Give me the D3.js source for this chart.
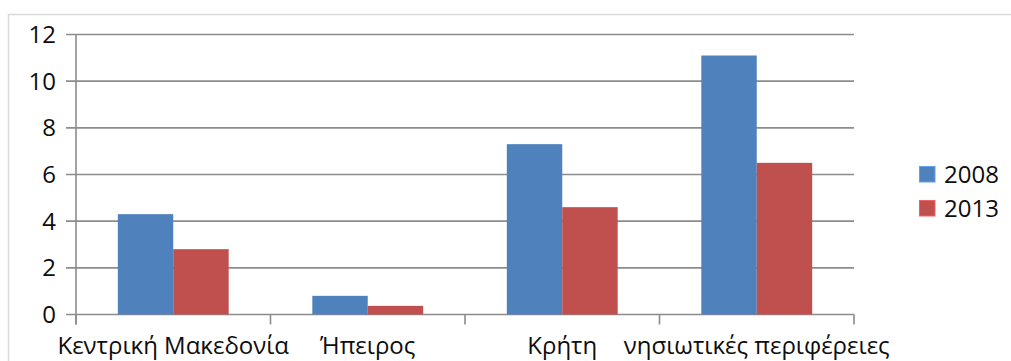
<!DOCTYPE html>
<html>
<head>
<meta charset="utf-8">
<script src="https://cdn.jsdelivr.net/npm/d3@7/dist/d3.min.js"></script>
<style>
  html, body { margin: 0; padding: 0; background: #fff; }
  svg { display: block; font-family: "Open Sans", "Noto Sans", sans-serif; }
</style>
</head>
<body>
<script>
// Regions and the two survey years
const categories = ["Κεντρική Μακεδονία", "Ήπειρος", "Κρήτη", "νησιωτικές περιφέρειες"];
const seriesNames = ["2008", "2013"];
const values2008 = [4.3, 0.8, 7.3, 11.1];
const values2013 = [2.8, 0.37, 4.6, 6.5];
const yTicks = [0, 2, 4, 6, 8, 10, 12];
const colors = ["#4F81BD", "#C0504D"];

const W = 1011, H = 361;
const plot = { left: 76, right: 854, top: 34.5, bottom: 314.5 };
const fontSize = 24;
const textColor = "#0d0d0d";

const svg = d3.select("body").append("svg").attr("width", W).attr("height", H);

// Chart area frame
svg.append("path")
  .attr("d", `M8.5,${H + 2} L8.5,14.5 L${W + 2},14.5`)
  .attr("fill", "none").attr("stroke", "#d9d9d9").attr("stroke-width", 1.5);

const x0 = d3.scaleBand().domain(categories)
  .range([plot.left, plot.right]).paddingInner(0.43).paddingOuter(0.215);
const x1 = d3.scaleBand().domain(seriesNames).range([0, x0.bandwidth()]);
const y = d3.scaleLinear().domain([0, 12]).range([plot.bottom, plot.top]);

const gridColor = "#8c8c8c";

// Horizontal gridlines with left tick marks
svg.append("g").selectAll("line").data(yTicks).join("line")
  .attr("x1", plot.left - 10).attr("x2", plot.right)
  .attr("y1", d => y(d)).attr("y2", d => y(d))
  .attr("stroke", gridColor).attr("stroke-width", 1.6);

// Y tick labels
svg.append("g").selectAll("text").data(yTicks).join("text")
  .attr("x", 56).attr("y", d => y(d))
  .attr("dy", "0.36em")
  .attr("text-anchor", "end")
  .attr("font-size", fontSize).attr("fill", textColor)
  .text(d => d);

// Category boundary ticks below the baseline
const boundaries = categories.map(c => x0(c) - x0.step() * x0.paddingInner() / 2);
boundaries[0] = plot.left;
boundaries.push(plot.right);
svg.append("g").selectAll("line").data(boundaries).join("line")
  .attr("x1", d => d).attr("x2", d => d)
  .attr("y1", plot.bottom).attr("y2", plot.bottom + 10)
  .attr("stroke", gridColor).attr("stroke-width", 1.6);

// Vertical axis line
svg.append("line")
  .attr("x1", plot.left).attr("x2", plot.left)
  .attr("y1", plot.top).attr("y2", plot.bottom + 10)
  .attr("stroke", gridColor).attr("stroke-width", 1.6);

// Bars
const rows = categories.map((c, i) => ({ cat: c, vals: [values2008[i], values2013[i]] }));
const groups = svg.append("g").selectAll("g").data(rows).join("g")
  .attr("transform", d => `translate(${x0(d.cat)},0)`);
groups.selectAll("rect")
  .data(d => d.vals.map((v, j) => ({ key: seriesNames[j], v, j })))
  .join("rect")
  .attr("x", d => x1(d.key))
  .attr("width", x1.bandwidth())
  .attr("y", d => y(d.v))
  .attr("height", d => y(0) - y(d.v))
  .attr("fill", d => colors[d.j]);

// Category labels
svg.append("g").selectAll("text").data(categories).join("text")
  .attr("x", d => x0(d) + x0.bandwidth() / 2)
  .attr("y", 354)
  .attr("text-anchor", "middle")
  .attr("font-size", fontSize).attr("fill", textColor)
  .text(d => d);

// Legend
const legend = svg.append("g").selectAll("g").data(seriesNames).join("g")
  .attr("transform", (d, i) => `translate(919,${166 + i * 34})`);
legend.append("rect")
  .attr("x", 0.5).attr("y", 0.5).attr("width", 15.5).attr("height", 15.5)
  .attr("fill", (d, i) => colors[i])
  .attr("stroke", (d, i) => d3.color(colors[i]).brighter(0.6))
  .attr("stroke-width", 1);
legend.append("text")
  .attr("x", 25).attr("y", 8).attr("dy", "0.36em")
  .attr("font-size", fontSize).attr("fill", textColor)
  .text(d => d);
</script>
</body>
</html>
